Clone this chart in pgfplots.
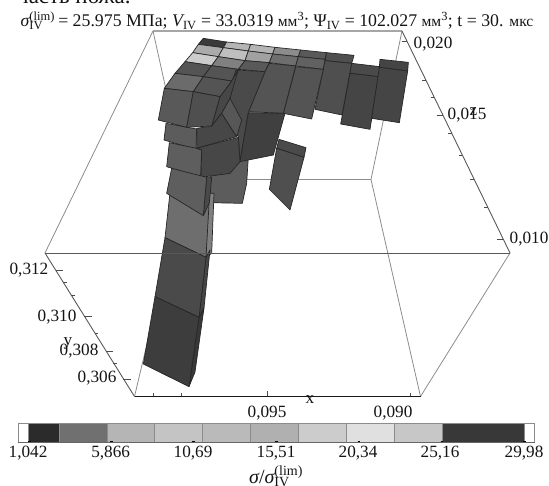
\documentclass[border=0pt]{standalone}
\usepackage{fontspec}
\setmainfont{Liberation Serif}
\usepackage{pgfplots}
\pgfplotsset{compat=1.18}
\tikzset{lab/.style={font=\fontsize{17.2}{17.2}\selectfont,inner sep=0pt,text=black!92,yshift=-1.5pt},
 box/.style={draw=black!45,line width=0.8pt},
 axl/.style={draw=black!65,line width=0.9pt},
 tk/.style={draw=black!70,line width=0.6pt},
 cell/.style={draw=black!85,line width=0.7pt,line join=round},
 cb/.style={draw=black!45,line width=0.5pt}}
\newcommand{\siv}{{\itshape σ}\rlap{\textsuperscript{(lim)}}\textsubscript{IV}\hspace{.6em}}
\begin{document}
\begin{tikzpicture}
\path[use as bounding box] (0,0) rectangle (549pt,486pt);
\begin{axis}[at={(0,0)},anchor=south west,scale only axis,width=549pt,height=486pt,
  xmin=-390,xmax=1257,ymin=-60,ymax=1398,y dir=reverse,hide axis,clip=false]
% box edges behind the solid
\addplot[draw=black!35,line width=1.5pt] coordinates {(69,33) (816,33)};
\addplot[box] coordinates {(69,33) (-255,699)};
\addplot[box] coordinates {(69,33) (168,478.5) (13.5,1129.5)};
\addplot[box] coordinates {(816,33) (723,478.5) (871.5,1129.5)};
\addplot[box] coordinates {(168,478.5) (723,478.5)};
\addplot[box] coordinates {(1140,699) (871.5,1129.5)};
% solid, back to front
\addplot[cell,fill=black!64] coordinates {(240,440) (355,410) (350,490) (337,550) (240,548)} --cycle;
\addplot[cell,fill=black!77] coordinates {(220,55) (290,66) (280,83) (205,73)} --cycle;
\addplot[cell,fill=black!29] coordinates {(290,66) (362,73) (355,93) (280,83)} --cycle;
\addplot[cell,fill=black!29] coordinates {(362,73) (435,82) (428,102) (355,93)} --cycle;
\addplot[cell,fill=black!45] coordinates {(435,82) (512,90) (505,110) (428,102)} --cycle;
\addplot[cell,fill=black!65] coordinates {(512,90) (590,98) (585,118) (505,110)} --cycle;
\addplot[cell,fill=black!69] coordinates {(590,98) (672,106) (665,130) (585,122)} --cycle;
\addplot[cell,fill=black!33] coordinates {(205,73) (280,83) (265,110) (188,98)} --cycle;
\addplot[cell,fill=black!25] coordinates {(280,83) (355,93) (345,122) (265,110)} --cycle;
\addplot[cell,fill=black!37] coordinates {(355,93) (428,102) (418,128) (345,122)} --cycle;
\addplot[cell,fill=black!57] coordinates {(428,102) (505,110) (497,138) (418,128)} --cycle;
\addplot[cell,fill=black!62] coordinates {(505,110) (585,118) (580,148) (497,138)} --cycle;
\addplot[cell,fill=black!20] coordinates {(188,98) (265,110) (245,137) (165,125)} --cycle;
\addplot[cell,fill=black!50] coordinates {(265,110) (345,122) (325,148) (245,137)} --cycle;
\addplot[cell,fill=black!65] coordinates {(345,122) (418,128) (405,155) (325,148)} --cycle;
\addplot[cell,fill=black!67] coordinates {(165,125) (245,137) (220,170) (135,160)} --cycle;
\addplot[cell,fill=black!67] coordinates {(245,137) (325,148) (305,183) (220,170)} --cycle;
\addplot[cell,fill=black!69] coordinates {(585,122) (665,130) (636,285) (555,268)} --cycle;
\addplot[cell,fill=black!67] coordinates {(497,140) (580,148) (545,297) (460,280)} --cycle;
\addplot[cell,fill=black!67] coordinates {(405,155) (418,130) (497,138) (460,280) (355,275)} --cycle;
\addplot[cell,fill=black!71] coordinates {(318,150) (405,155) (355,278) (330,425) (325,350) (275,280)} --cycle;
\addplot[cell,fill=black!71] coordinates {(665,130) (750,140) (745,170) (660,160)} --cycle;
\addplot[cell,fill=black!73] coordinates {(660,160) (745,170) (720,328) (632,312)} --cycle;
\addplot[cell,fill=black!73] coordinates {(750,118) (835,127) (833,153) (748,142)} --cycle;
\addplot[cell,fill=black!73] coordinates {(748,142) (833,153) (808,308) (725,295)} --cycle;
\addplot[cell,fill=black!71] coordinates {(447,358) (528,383) (522,412) (440,385)} --cycle;
\addplot[cell,fill=black!69] coordinates {(440,385) (522,412) (480,570) (418,508)} --cycle;
\addplot[cell,fill=black!75] coordinates {(355,278) (465,280) (430,405) (330,425)} --cycle;
\addplot[cell,fill=black!64] coordinates {(108,310) (200,327) (198,388) (102,360)} --cycle;
\addplot[cell,fill=black!72] coordinates {(305,183) (325,148) (300,235) (275,280) (245,318) (270,230)} --cycle;
\addplot[cell,fill=black!72] coordinates {(200,325) (245,318) (275,280) (320,350) (200,385)} --cycle;
\addplot[cell,fill=black!66] coordinates {(275,280) (300,235) (335,300) (320,350)} --cycle;
\addplot[cell,fill=black!63] coordinates {(118,368) (200,385) (215,390) (212,472) (110,440)} --cycle;
\addplot[cell,fill=black!72] coordinates {(200,385) (325,352) (330,425) (300,460) (213,472) (215,390)} --cycle;
\addplot[cell,fill=black!58] coordinates {(135,160) (220,170) (190,215) (103,205)} --cycle;
\addplot[cell,fill=black!67] coordinates {(220,170) (305,183) (270,230) (190,215)} --cycle;
\addplot[cell,fill=black!65] coordinates {(103,205) (190,215) (170,322) (85,300)} --cycle;
\addplot[cell,fill=black!69] coordinates {(190,215) (270,230) (245,318) (170,322)} --cycle;
\addplot[cell,fill=black!50] coordinates {(233,520) (252,520) (245,700) (228,712)} --cycle;
\addplot[cell,fill=black!57] coordinates {(122,500) (240,500) (228,712) (105,653)} --cycle;
\addplot[cell,fill=black!71] coordinates {(230,472) (245,472) (238,548) (220,587)} --cycle;
\addplot[cell,fill=black!63] coordinates {(125,445) (230,472) (220,587) (110,520)} --cycle;
\addplot[cell,fill=black!73] coordinates {(228,712) (240,690) (222,864) (207,892)} --cycle;
\addplot[cell,fill=black!71] coordinates {(105,653) (228,712) (207,892) (75,830)} --cycle;
\addplot[cell,fill=black!78] coordinates {(207,892) (222,864) (195,1056) (177,1100)} --cycle;
\addplot[cell,fill=black!76] coordinates {(75,830) (207,892) (177,1100) (40,1032)} --cycle;
% box edges in front
\addplot[axl] coordinates {(-255,699) (1140,699)};
\addplot[axl] coordinates {(816,33) (1140,699)};
\addplot[axl] coordinates {(-255,699) (13.5,1129.5)};
\addplot[draw=black!90,line width=0.9pt] coordinates {(13.5,1129.5) (871.5,1129.5)};
% ticks
\addplot[tk] coordinates {(815,63) (831,63)};
\addplot[tk] coordinates {(877,180) (887,180)};
\addplot[tk] coordinates {(902,231) (912,231)};
\addplot[tk] coordinates {(920,285) (939,285)};
\addplot[tk] coordinates {(954,339) (965,339)};
\addplot[tk] coordinates {(986,405) (997,405)};
\addplot[tk] coordinates {(1021,477) (1032,477)};
\addplot[tk] coordinates {(1062,561) (1073,561)};
\addplot[tk] coordinates {(1100,657) (1120,657)};
\addplot[tk] coordinates {(-223,750) (-200,750)};
\addplot[tk] coordinates {(-201,786) (-190,786)};
\addplot[tk] coordinates {(-177,825) (-166,825)};
\addplot[tk] coordinates {(-137,888) (-115,888)};
\addplot[tk] coordinates {(-106,939) (-95,939)};
\addplot[tk] coordinates {(-72,993) (-50,993)};
\addplot[tk] coordinates {(-50,1029) (-39,1029)};
\addplot[tk] coordinates {(-20,1077) (3,1077)};
\addplot[tk] coordinates {(69,1129) (69,1120)};
\addplot[tk] coordinates {(153,1129) (153,1120)};
\addplot[tk] coordinates {(411,1129) (411,1112)};
\addplot[tk] coordinates {(840,1129) (840,1120)};
% colour bar
\addplot[cb,fill=white] coordinates {(-335.4,1210.2) (1214.1,1210.2) (1214.1,1266.9) (-335.4,1266.9)} --cycle;
\addplot[cb,fill=black!83] coordinates {(-303.9,1210.2) (-213.6,1210.2) (-213.6,1266.9) (-303.9,1266.9)} --cycle;
\addplot[cb,fill=black!56] coordinates {(-213.6,1210.2) (-69.6,1210.2) (-69.6,1266.9) (-213.6,1266.9)} --cycle;
\addplot[cb,fill=black!29] coordinates {(-69.6,1210.2) (73.2,1210.2) (73.2,1266.9) (-69.6,1266.9)} --cycle;
\addplot[cb,fill=black!23] coordinates {(73.2,1210.2) (217.2,1210.2) (217.2,1266.9) (73.2,1266.9)} --cycle;
\addplot[cb,fill=black!27] coordinates {(217.2,1210.2) (361.2,1210.2) (361.2,1266.9) (217.2,1266.9)} --cycle;
\addplot[cb,fill=black!31] coordinates {(361.2,1210.2) (504.9,1210.2) (504.9,1266.9) (361.2,1266.9)} --cycle;
\addplot[cb,fill=black!20] coordinates {(504.9,1210.2) (649.8,1210.2) (649.8,1266.9) (504.9,1266.9)} --cycle;
\addplot[cb,fill=black!12] coordinates {(649.8,1210.2) (792.9,1210.2) (792.9,1266.9) (649.8,1266.9)} --cycle;
\addplot[cb,fill=black!22] coordinates {(792.9,1210.2) (936.6,1210.2) (936.6,1266.9) (792.9,1266.9)} --cycle;
\addplot[cb,fill=black!78] coordinates {(936.6,1210.2) (1182.6,1210.2) (1182.6,1266.9) (936.6,1266.9)} --cycle;
\addplot[draw=black!60,line width=0.9pt] coordinates {(-335.4,1266.9) (1214.1,1266.9)};
\addplot[black,line width=1pt] coordinates {(-305,1263) (-297,1263)};
\addplot[black,line width=1pt] coordinates {(-60,1263) (-52,1263)};
\addplot[black,line width=1pt] coordinates {(187,1263) (195,1263)};
\addplot[black,line width=1pt] coordinates {(436,1263) (444,1263)};
\addplot[black,line width=1pt] coordinates {(683,1263) (691,1263)};
\addplot[black,line width=1pt] coordinates {(932,1263) (940,1263)};
\addplot[black,line width=1pt] coordinates {(1179,1263) (1187,1263)};
% texts
\node[lab,overlay,anchor=base west,font=\fontsize{23}{23}\selectfont,yshift=1.5pt] at (axis cs:-339,-48) {часть ножа.};
\node[lab,anchor=base,yshift=1.5pt,font=\fontsize{17.8}{17.8}\selectfont] at (axis cs:441,21) {\siv\ = 25.975 МПа; {\itshape V}\textsubscript{IV} = 33.0319 {\fontsize{15.5}{15.5}\selectfont мм}\textsuperscript{3}; Ψ\textsubscript{IV} = 102.027 {\fontsize{15.5}{15.5}\selectfont мм}\textsuperscript{3}; t = 30. {\fontsize{15.5}{15.5}\selectfont мкс}};
\node[lab] at (axis cs:909,69) {0,020};
\node[lab] at (axis cs:1011,282) {0,015};
\node[lab] at (axis cs:1030,270) {z};
\node[lab] at (axis cs:1197,654) {0,010};
\node[lab] at (axis cs:-303,747) {0,312};
\node[lab] at (axis cs:-219,888) {0,310};
\node[lab] at (axis cs:-153,990) {0,308};
\node[lab] at (axis cs:-186,966) {y};
\node[lab] at (axis cs:-99,1071) {0,306};
\node[lab] at (axis cs:411,1176) {0,095};
\node[lab] at (axis cs:789,1176) {0,090};
\node[lab] at (axis cs:540,1134) {x};
\node[lab] at (axis cs:-306,1296) {1,042};
\node[lab] at (axis cs:-58,1296) {5,866};
\node[lab] at (axis cs:189,1296) {10,69};
\node[lab] at (axis cs:438,1296) {15,51};
\node[lab] at (axis cs:684,1296) {20,34};
\node[lab] at (axis cs:930,1296) {25,16};
\node[lab] at (axis cs:1182,1296) {29,98};
\node[lab,anchor=base west,yshift=1.5pt,font=\fontsize{20}{20}\selectfont] at (axis cs:357,1389) {{\itshape σ}/\siv};
\end{axis}
\end{tikzpicture}
\end{document}
